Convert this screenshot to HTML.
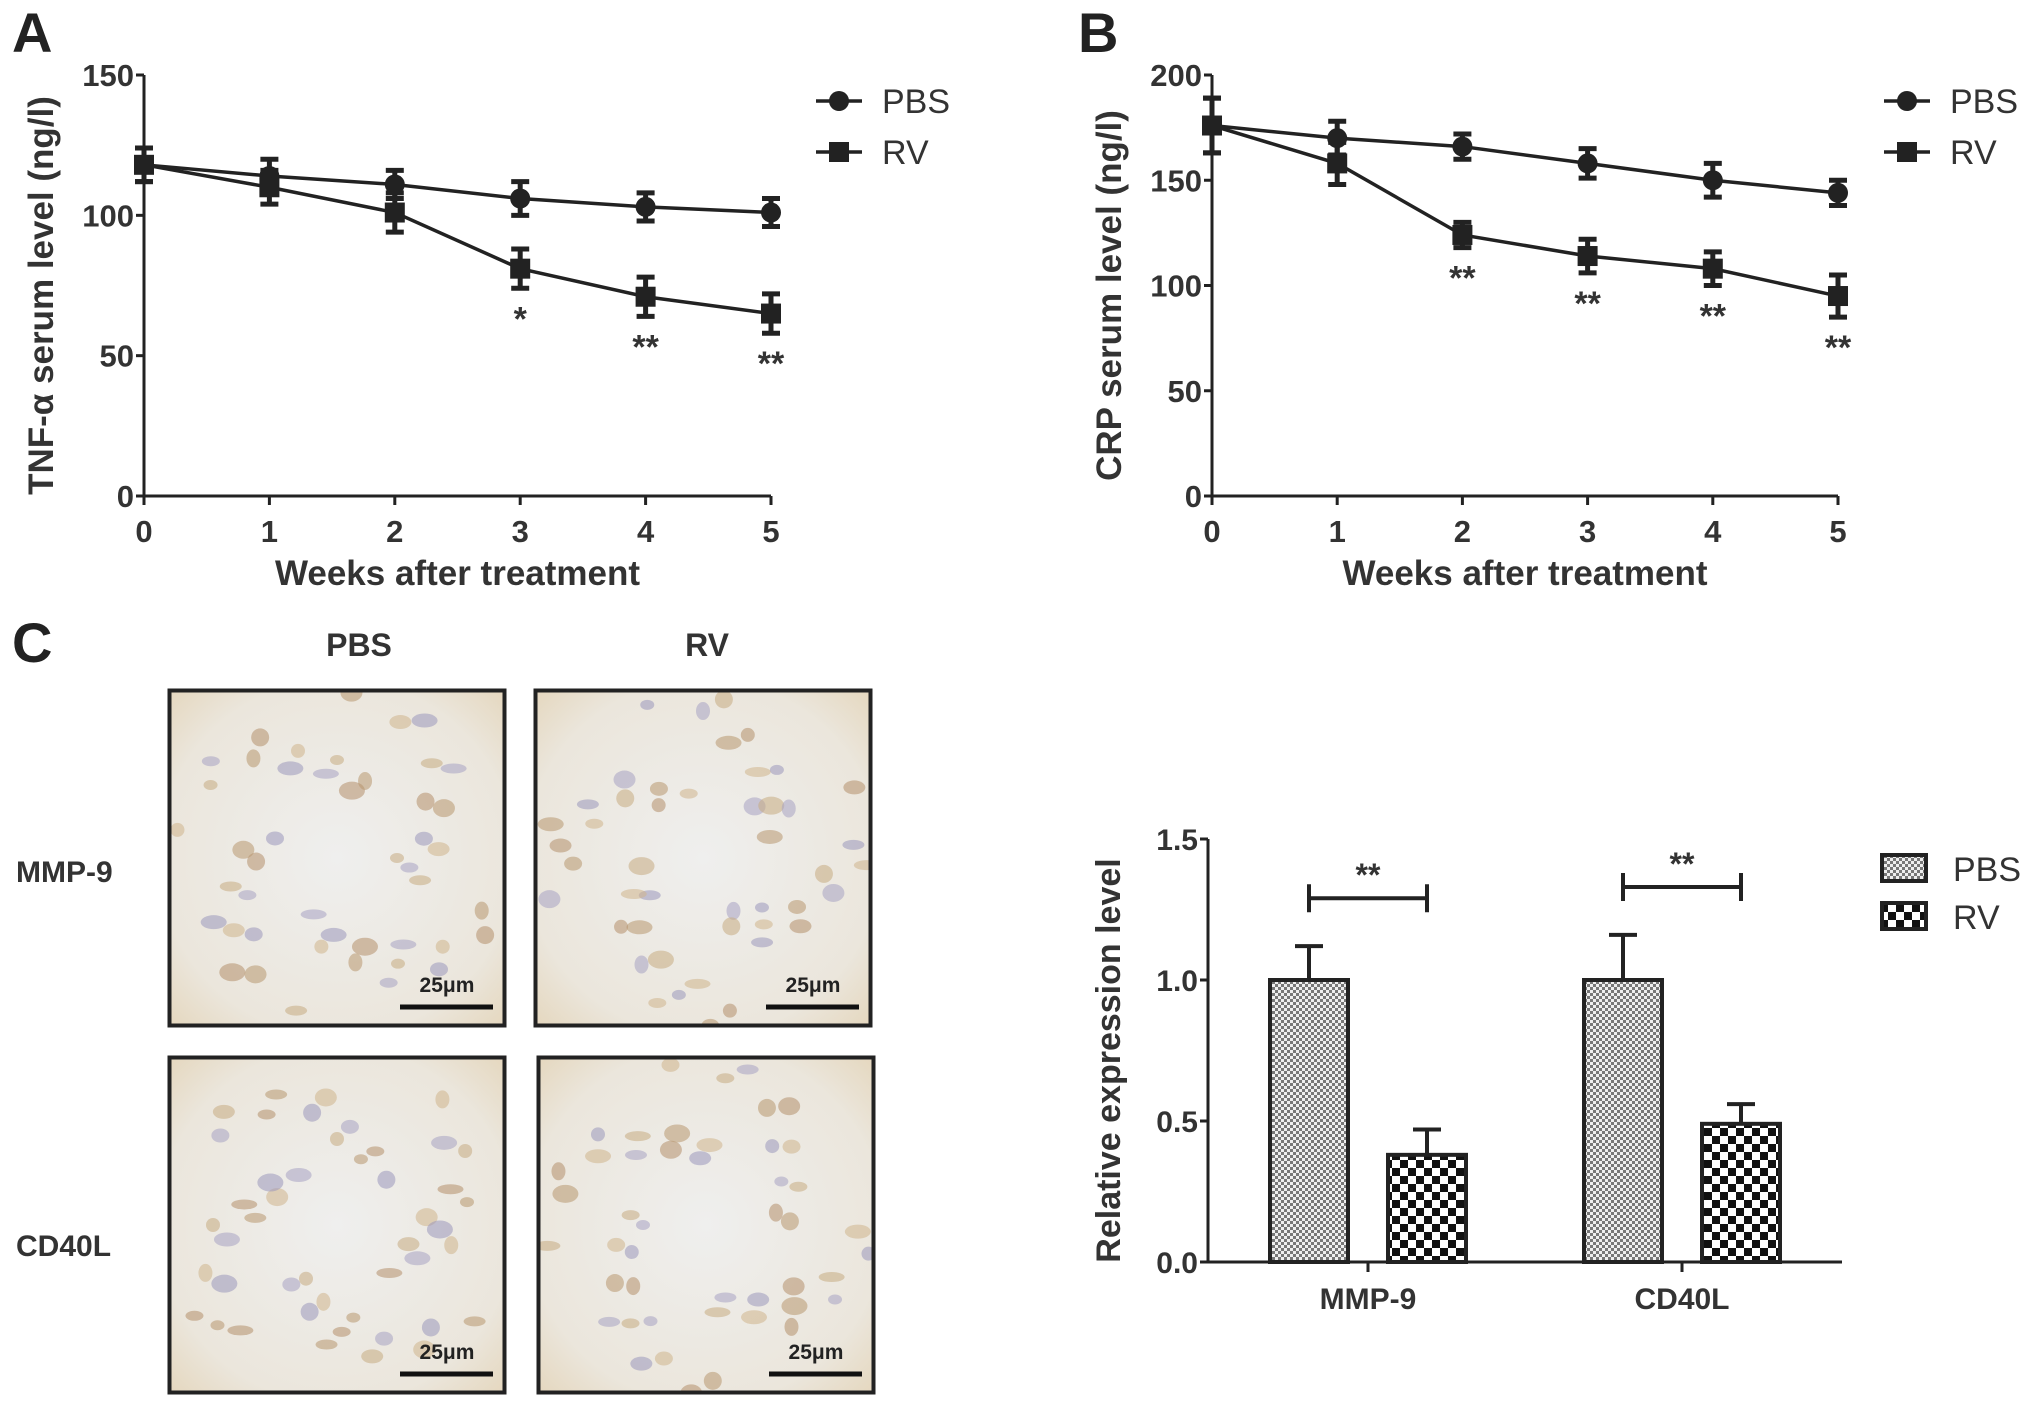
<!DOCTYPE html>
<html><head><meta charset="utf-8"><style>
html,body{margin:0;padding:0;background:#fff;}
svg{display:block;font-family:"Liberation Sans",sans-serif;}
</style></head><body>
<svg id="fig" width="2031" height="1416" viewBox="0 0 2031 1416">
<defs id="defs">
<pattern id="pPBS" width="6" height="6" patternUnits="userSpaceOnUse"><rect width="6" height="6" fill="#777"/><rect width="3" height="3" fill="#eee"/><rect x="3" y="3" width="3" height="3" fill="#eee"/></pattern>
<pattern id="pRV" width="16" height="16" patternUnits="userSpaceOnUse"><rect width="16" height="16" fill="#fff"/><rect width="8" height="8" fill="#111"/><rect x="8" y="8" width="8" height="8" fill="#111"/></pattern>
<radialGradient id="tissue" cx="50%" cy="50%" r="75%"><stop offset="0" stop-color="#efefee"/><stop offset="0.7" stop-color="#ebe6dc"/><stop offset="1" stop-color="#e3d3b6"/></radialGradient>
</defs>
<g id="root"></g>
</svg>
<script>
// ---- Panel A data ----
const weeks = [0,1,2,3,4,5];
const tnfPBS = [118,114,111,106,103,101];
const tnfPBSErr = [6,6,5,6,5,5];
const tnfRV = [118,110,101,81,71,65];
const tnfRVErr = [6,6,7,7,7,7];
const tnfStars = ["","","","*","**","**"];
const tnfTicks = [0,50,100,150];
// ---- Panel B data ----
const crpPBS = [176,170,166,158,150,144];
const crpPBSErr = [13,8,6,7,8,6];
const crpRV = [176,158,124,114,108,95];
const crpRVErr = [13,10,6,8,8,10];
const crpStars = ["","","**","**","**","**"];
const crpTicks = [0,50,100,150,200];
// ---- Panel C bar data ----
const barCats = ["MMP-9","CD40L"];
const barPBS = [1.0,1.0];
const barPBSErr = [0.12,0.16];
const barRV = [0.38,0.49];
const barRVErr = [0.09,0.07];
const barTicks = ["0.0","0.5","1.0","1.5"];

const NS="http://www.w3.org/2000/svg";
const root=document.getElementById('root');
const defs=document.getElementById('defs');
function el(tag,attrs,parent,text){const e=document.createElementNS(NS,tag);for(const k in attrs)e.setAttribute(k,attrs[k]);if(text!==undefined)e.textContent=text;(parent||root).appendChild(e);return e;}

function lineChart(o){
  const g=el('g',{});
  
  
  const xs=v=>o.x0+(o.x1-o.x0)*v/5;
  const ys=v=>o.y0-(o.y0-o.y1)*v/o.ymax;
  el('line',{x1:o.x0,y1:o.y0,x2:o.x0,y2:o.y1,stroke:'#222','stroke-width':3},g);
  el('line',{x1:o.x0,y1:o.y0,x2:o.x1,y2:o.y0,stroke:'#222','stroke-width':3},g);
  o.ticks.forEach(t=>{const y=ys(t);
    el('line',{x1:o.x0-8,y1:y,x2:o.x0,y2:y,stroke:'#222','stroke-width':3},g);
    const tx=el('text',{x:o.x0-10,y:y+11,'text-anchor':'end','font-size':31,'font-weight':'bold',fill:'#333'},g,t);
    
    });
  weeks.forEach(w=>{const x=xs(w);
    el('line',{x1:x,y1:o.y0,x2:x,y2:o.y0+9,stroke:'#222','stroke-width':3},g);
    const tx=el('text',{x:x,y:o.y0+46,'text-anchor':'middle','font-size':31,'font-weight':'bold',fill:'#333'},g,w);
    
    });
  const xt=el('text',{x:(o.x0+o.x1)/2,y:o.y0+89,'text-anchor':'middle','font-size':35,'font-weight':'bold',fill:'#333'},g,'Weeks after treatment');
  
  
  const yt=el('text',{x:0,y:0,'text-anchor':'middle','font-size':35,'font-weight':'bold',fill:'#333',transform:`translate(${o.x0-91},${(o.y0+o.y1)/2+10}) rotate(-90)`},g,o.ytitle);
  
  
  [[o.pbs,o.pbsErr,'circle','series-pbs'],[o.rv,o.rvErr,'square','series-rv']].forEach(([vals,errs,shape,nm])=>{
    const s=el('g',{},g);
    
    
    el('polyline',{points:vals.map((v,i)=>xs(weeks[i])+','+ys(v)).join(' '),fill:'none',stroke:'#222','stroke-width':3.5},s);
    vals.forEach((v,i)=>{const x=xs(weeks[i]),y=ys(v),t=ys(v+errs[i]),b=ys(v-errs[i]);
      el('path',{d:`M${x},${t}V${b}M${x-9},${t}H${x+9}M${x-9},${b}H${x+9}`,stroke:'#222','stroke-width':5,fill:'none'},s);
      let m;
      if(shape==='circle')m=el('circle',{cx:x,cy:y,r:10,fill:'#222'},s);
      else m=el('rect',{x:x-10,y:y-10,width:20,height:20,fill:'#222'},s);
      
      });
  });
  o.stars.forEach((st,i)=>{if(!st)return;const x=xs(weeks[i]),y=ys(o.rv[i]-o.rvErr[i]);
    const tx=el('text',{x:x,y:y+42,'text-anchor':'middle','font-size':34,'font-weight':'bold',fill:'#333'},g,st);
    
    });
  [['PBS','circle',o.ly1],['RV','square',o.ly2]].forEach(([lab,sh,y])=>{
    const lg=el('g',{},g);
    
    
    el('line',{x1:o.lx,y1:y,x2:o.lx+46,y2:y,stroke:'#222','stroke-width':3.5},lg);
    if(sh==='circle')el('circle',{cx:o.lx+23,cy:y,r:10,fill:'#222'},lg);else el('rect',{x:o.lx+13,y:y-10,width:20,height:20,fill:'#222'},lg);
    el('text',{x:o.lx+66,y:y+12,'font-size':34,fill:'#333'},lg,lab);
  });
}
lineChart({name:'panel-a-tnf-chart',x0:144,x1:771,y0:496,y1:75,ymax:150,ticks:tnfTicks,pbs:tnfPBS,pbsErr:tnfPBSErr,rv:tnfRV,rvErr:tnfRVErr,stars:tnfStars,ytitle:'TNF-α  serum level (ng/l)',lx:816,ly1:101,ly2:152});
lineChart({name:'panel-b-crp-chart',x0:1212,x1:1838,y0:496,y1:75,ymax:200,ticks:crpTicks,pbs:crpPBS,pbsErr:crpPBSErr,rv:crpRV,rvErr:crpRVErr,stars:crpStars,ytitle:'CRP serum level (ng/l)',lx:1884,ly1:101,ly2:152});

[['A',12,52],['B',1078,52],['C',12,662]].forEach(([t,x,y])=>{const e=el('text',{x:x,y:y,'font-size':56,'font-weight':'bold',fill:'#222'},root,t);
  
  });

// micrographs
const mic=el('g',{});


const boxes=[[168,689,'mmp9-pbs'],[534,689,'mmp9-rv'],[168,1056,'cd40l-pbs'],[537,1056,'cd40l-rv']];
const cellCols=['#c7ab82','#9a97bb','#b89870','#a8a3c2','#cfb48c','#b4906c'];
boxes.forEach(([x,y,nm],bi)=>{
  const cp=el('clipPath',{id:'clip'+bi},defs);
  el('rect',{x:x,y:y,width:338,height:338},cp);
  const b=el('g',{},mic);
  
  
  const inner=el('g',{'clip-path':`url(#clip${bi})`},b);
  el('rect',{x:x,y:y,width:338,height:338,fill:'url(#tissue)'},inner);
  for(let k=0;k<46;k++){
    const a=(k*137.5+bi*40)*Math.PI/180, rr=60+((k*53+bi*17)%110);
    const cx=x+169+Math.cos(a)*rr, cy=y+169+Math.sin(a)*rr;
    el('ellipse',{cx:cx,cy:cy,rx:7+(k%4)*2,ry:5+(k%3)*2,fill:cellCols[(k+bi)%6],opacity:0.55},inner);
  }
  el('rect',{x:x+1.5,y:y+1.5,width:335,height:335,fill:'none',stroke:'#222','stroke-width':4},b);
  el('line',{x1:x+232,y1:y+318,x2:x+325,y2:y+318,stroke:'#111','stroke-width':5},b);
  el('text',{x:x+279,y:y+303,'text-anchor':'middle','font-size':21,'font-weight':'bold',fill:'#222'},b,'25μm');
});
[['PBS',359,656],['RV',707,656]].forEach(([t,x,y])=>{const e=el('text',{x:x,y:y,'text-anchor':'middle','font-size':32,'font-weight':'bold',fill:'#333'},root,t);
  
  });
[['MMP-9',882],['CD40L',1256]].forEach(([t,y])=>{const e=el('text',{x:16,y:y,'font-size':30,'font-weight':'bold',fill:'#333'},root,t);
  
  });

// bar chart
(function(){
  const g=el('g',{});
  
  
  const X0=1208,X1=1842,Y0=1262,Y1=839,YMAX=1.5;
  const ys=v=>Y0-(Y0-Y1)*v/YMAX;
  const groupC=[1368,1682], bw=78, off=59;
  el('line',{x1:X0,y1:Y0,x2:X0,y2:Y1,stroke:'#222','stroke-width':3},g);
  el('line',{x1:X0,y1:Y0,x2:X1,y2:Y0,stroke:'#222','stroke-width':3},g);
  barTicks.forEach(t=>{const y=ys(parseFloat(t));
    el('line',{x1:X0-8,y1:y,x2:X0,y2:y,stroke:'#222','stroke-width':3},g);
    const tx=el('text',{x:X0-10,y:y+11,'text-anchor':'end','font-size':30,'font-weight':'bold',fill:'#333'},g,t);
    
    });
  const yt=el('text',{x:0,y:0,'text-anchor':'middle','font-size':34,'font-weight':'bold',fill:'#333',transform:`translate(${X0-88},${(Y0+Y1)/2+10}) rotate(-90)`},g,'Relative expression level');
  
  
  barCats.forEach((c,i)=>{const cx=groupC[i];
    el('line',{x1:cx,y1:Y0,x2:cx,y2:Y0+10,stroke:'#222','stroke-width':3},g);
    const tx=el('text',{x:cx,y:Y0+47,'text-anchor':'middle','font-size':30,'font-weight':'bold',fill:'#333'},g,c);
    
    
    [[barPBS,barPBSErr,'url(#pPBS)',-off,'bar-pbs'],[barRV,barRVErr,'url(#pRV)',off,'bar-rv']].forEach(([v,e,f,dx,nm])=>{
      const bx=cx+dx-bw/2, top=ys(v[i]), et=ys(v[i]+e[i]);
      el('path',{d:`M${cx+dx},${top}V${et}M${cx+dx-14},${et}H${cx+dx+14}`,stroke:'#222','stroke-width':4,fill:'none'},g);
      const r=el('rect',{x:bx,y:top,width:bw,height:Y0-top,fill:f,stroke:'#222','stroke-width':4},g);
      
      
    });
    const by=ys(Math.max(barPBS[i]+barPBSErr[i],barRV[i]+barRVErr[i])+0.17);
    const x1=cx-off, x2=cx+off;
    const br=el('path',{d:`M${x1},${by-14}V${by+14}M${x1},${by}H${x2}M${x2},${by-14}V${by+14}`,stroke:'#222','stroke-width':4,fill:'none'},g);
    
    
    const st=el('text',{x:cx,y:by-12,'text-anchor':'middle','font-size':32,'font-weight':'bold',fill:'#333'},g,'**');
    
    
  });
  [['PBS','url(#pPBS)',855],['RV','url(#pRV)',903]].forEach(([l,f,y])=>{
    const lg=el('g',{},g);
    
    
    el('rect',{x:1882,y:y,width:44,height:26,fill:f,stroke:'#222','stroke-width':4},lg);
    el('text',{x:1953,y:y+26,'font-size':34,fill:'#333'},lg,l);
  });
})();
</script>
</body></html>
